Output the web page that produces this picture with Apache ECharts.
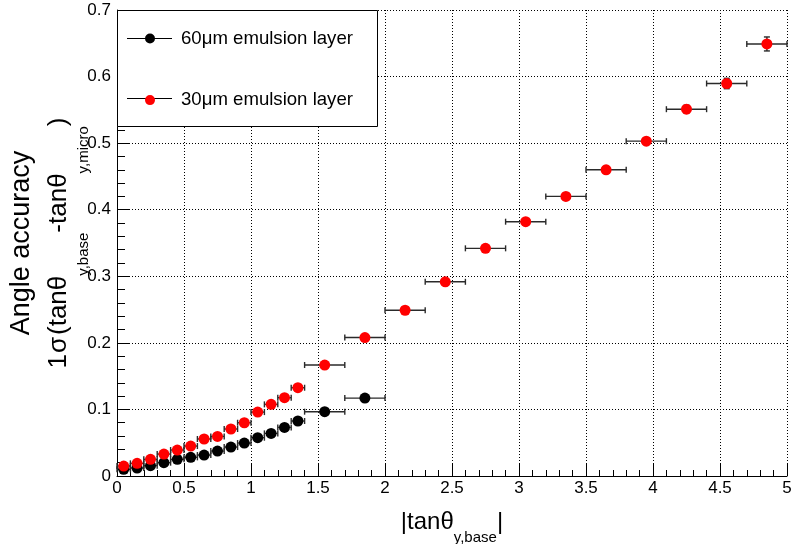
<!DOCTYPE html>
<html>
<head>
<meta charset="utf-8">
<script src="https://cdn.jsdelivr.net/npm/echarts@6/dist/echarts.min.js"></script>
<style>
html,body{margin:0;padding:0;background:#fff;}
#chart{width:791px;height:544px;}
</style>
</head>
<body>
<div id="chart"></div>
<script>
// ---- data ----
const x60 = [0.05,0.15,0.25,0.35,0.45,0.55,0.65,0.75,0.85,0.95,1.05,1.15,1.25,1.35,1.55,1.85];
const xErr60 = [0.05,0.05,0.05,0.05,0.05,0.05,0.05,0.05,0.05,0.05,0.05,0.05,0.05,0.05,0.15,0.15];
const y60 = [0.010,0.012,0.0155,0.020,0.025,0.028,0.0315,0.0375,0.0435,0.0495,0.0575,0.064,0.073,0.0826,0.0966,0.117];
const yErr60 = [0.001,0.001,0.001,0.001,0.001,0.001,0.001,0.001,0.001,0.001,0.001,0.0015,0.0015,0.002,0.002,0.003];

const x30 = [0.05,0.15,0.25,0.35,0.45,0.55,0.65,0.75,0.85,0.95,1.05,1.15,1.25,1.35,1.55,1.85,2.15,2.45,2.75,3.05,3.35,3.65,3.95,4.25,4.55,4.85];
const xErr30 = [0.05,0.05,0.05,0.05,0.05,0.05,0.05,0.05,0.05,0.05,0.05,0.05,0.05,0.05,0.15,0.15,0.15,0.15,0.15,0.15,0.15,0.15,0.15,0.15,0.15,0.15];
const y30 = [0.015,0.019,0.025,0.033,0.039,0.045,0.0556,0.0595,0.0706,0.080,0.096,0.1076,0.1176,0.1326,0.1667,0.208,0.249,0.2917,0.342,0.382,0.420,0.460,0.503,0.551,0.5896,0.649];
const yErr30 = [0.001,0.001,0.001,0.001,0.001,0.001,0.001,0.001,0.001,0.0015,0.0015,0.0015,0.002,0.002,0.002,0.003,0.003,0.003,0.004,0.004,0.004,0.005,0.005,0.006,0.0078,0.0105];

const seriesNames = ['60\u03bcm emulsion layer', '30\u03bcm emulsion layer'];
const xTickLabels = ['0','0.5','1','1.5','2','2.5','3','3.5','4','4.5','5'];
const yTickLabels = ['0','0.1','0.2','0.3','0.4','0.5','0.6','0.7'];

const FONT = "'Liberation Sans', Arial, Helvetica, sans-serif";

function pts(xs, ys, exs, eys) {
  return xs.map((x, i) => [x, ys[i], exs[i], eys[i]]);
}

function errRender(params, api) {
  const x = api.value(0), y = api.value(1), ex = api.value(2), ey = api.value(3);
  const l = api.coord([x - ex, y]);
  const r = api.coord([x + ex, y]);
  const b = api.coord([x, y - ey]);
  const t = api.coord([x, y + ey]);
  const c = 3;
  const st = { stroke: '#2a2a2a', lineWidth: 1.4 };
  return {
    type: 'group',
    children: [
      { type: 'line', shape: { x1: l[0], y1: l[1], x2: r[0], y2: r[1] }, style: st },
      { type: 'line', shape: { x1: l[0], y1: l[1] - c, x2: l[0], y2: l[1] + c }, style: st },
      { type: 'line', shape: { x1: r[0], y1: r[1] - c, x2: r[0], y2: r[1] + c }, style: st },
      { type: 'line', shape: { x1: b[0], y1: b[1], x2: t[0], y2: t[1] }, style: st },
      { type: 'line', shape: { x1: b[0] - c, y1: b[1], x2: b[0] + c, y2: b[1] }, style: st },
      { type: 'line', shape: { x1: t[0] - c, y1: t[1], x2: t[0] + c, y2: t[1] }, style: st }
    ]
  };
}

const chart = echarts.init(document.getElementById('chart'), null, { renderer: 'canvas' });

const gridLine = { show: true, lineStyle: { color: '#000', type: [1, 2], width: 1 } };

const legendIcon = 'path://M0,5L49,5M18,5A5,5,0,1,1,28,5A5,5,0,1,1,18,5Z';

chart.setOption({
  animation: false,
  backgroundColor: '#fff',
  textStyle: { fontFamily: FONT },
  grid: { left: 117, right: 4, top: 10, bottom: 68, containLabel: false, outerBoundsMode: 'none' },
  xAxis: {
    type: 'value', min: 0, max: 5, interval: 0.5,
    axisLine: { show: true, onZero: false, lineStyle: { color: '#000', width: 1 } },
    axisTick: { show: true, inside: true, length: 12, lineStyle: { color: '#000' } },
    minorTick: { show: true, splitNumber: 5, length: 6, lineStyle: { color: '#000' } },
    splitLine: gridLine,
    axisLabel: {
      fontSize: 17, color: '#000', margin: 4, fontFamily: FONT,
      formatter: v => xTickLabels[Math.round(v / 0.5)]
    },
    name: '{m||tan\u03b8}{s|y,base}{m||}',
    nameLocation: 'middle',
    nameGap: 34,
    nameMoveOverlap: false,
    nameTextStyle: {
      color: '#000', fontFamily: FONT,
      rich: {
        m: { fontSize: 24, lineHeight: 28, verticalAlign: 'top', fontFamily: FONT, color: '#000' },
        s: { fontSize: 15, lineHeight: 15, padding: [20, 0, 0, 0], verticalAlign: 'top', fontFamily: FONT, color: '#000' }
      }
    }
  },
  yAxis: {
    type: 'value', min: 0, max: 0.7, interval: 0.1,
    axisLine: { show: true, onZero: false, lineStyle: { color: '#000', width: 1 } },
    axisTick: { show: true, inside: true, length: 12, lineStyle: { color: '#000' } },
    minorTick: { show: true, splitNumber: 5, length: 8, lineStyle: { color: '#000' } },
    splitLine: gridLine,
    axisLabel: {
      fontSize: 17, color: '#000', margin: 6, fontFamily: FONT,
      formatter: v => yTickLabels[Math.round(v / 0.1)]
    },
    name: '{l1|Angle accuracy}\n{m|1}{g|\u03c3}{m|(tan\u03b8}{s|y,base}{m|-tan\u03b8}{s|y,micro}{m|)}',
    nameLocation: 'middle',
    nameRotate: 90,
    nameGap: 41,
    nameMoveOverlap: false,
    nameTextStyle: {
      color: '#000', fontFamily: FONT,
      rich: {
        l1: { fontSize: 27, lineHeight: 38, verticalAlign: 'top', fontFamily: FONT, color: '#000' },
        m: { fontSize: 26, lineHeight: 30, verticalAlign: 'top', fontFamily: FONT, color: '#000' },
        g: { fontSize: 26, lineHeight: 30, padding: [0, 2, 0, 1], verticalAlign: 'top', fontFamily: FONT, color: '#000' },
        s: { fontSize: 15, lineHeight: 15, padding: [30, 0, 0, 0], verticalAlign: 'top', fontFamily: FONT, color: '#000' }
      }
    }
  },
  legend: {
    show: true,
    data: seriesNames,
    orient: 'vertical',
    left: 127,
    top: 29,
    padding: 0,
    itemGap: 42.6,
    itemWidth: 49,
    itemHeight: 10,
    icon: legendIcon,
    selectedMode: false,
    z: 10,
    textStyle: { fontSize: 18.6, color: '#000', fontFamily: FONT }
  },
  graphic: [
    { type: 'rect', z: 5, shape: { x: 117.5, y: 10.5, width: 260, height: 116 }, style: { fill: '#fff', stroke: '#000', lineWidth: 1 } },
    { type: 'line', z: 6, shape: { x1: 127, y1: 38.5, x2: 172, y2: 38.5 }, style: { stroke: '#000', lineWidth: 1 } },
    { type: 'line', z: 6, shape: { x1: 127, y1: 98.5, x2: 172, y2: 98.5 }, style: { stroke: '#000', lineWidth: 1 } }
  ],
  series: [
    { type: 'custom', name: 'err60', renderItem: errRender, data: pts(x60, y60, xErr60, yErr60), encode: { x: 0, y: 1 }, z: 1, silent: true },
    { type: 'custom', name: 'err30', renderItem: errRender, data: pts(x30, y30, xErr30, yErr30), encode: { x: 0, y: 1 }, z: 1, silent: true },
    { type: 'scatter', name: seriesNames[0], data: x60.map((x, i) => [x, y60[i]]), symbol: 'circle', symbolSize: 11, itemStyle: { color: '#000', opacity: 1 }, z: 3 },
    { type: 'scatter', name: seriesNames[1], data: x30.map((x, i) => [x, y30[i]]), symbol: 'circle', symbolSize: 11, itemStyle: { color: '#ff0000', opacity: 1 }, z: 4 }
  ]
});
</script>
</body>
</html>
